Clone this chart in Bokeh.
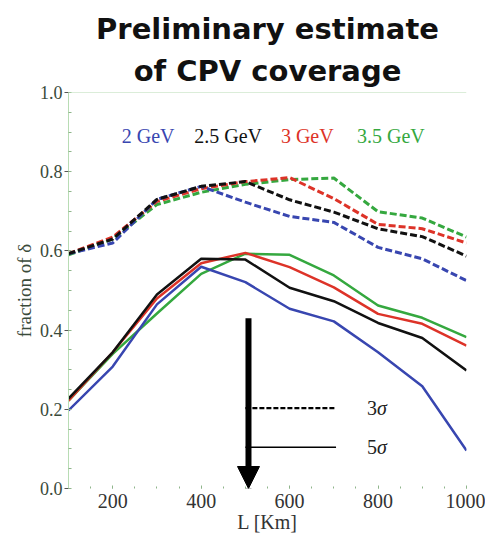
from bokeh.plotting import figure
from bokeh.embed import file_html
from bokeh.resources import INLINE
from bokeh.models import (Title, Span, Arrow, NormalHead, SingleIntervalTicker,
                          Range1d, PrintfTickFormatter)
from bokeh.core.properties import value

# ---- data ----
L = [100, 200, 300, 400, 500, 600, 700, 800, 900, 1000]

# 3 sigma (dashed)
blue3 = [0.593, 0.620, 0.730, 0.763, 0.723, 0.687, 0.672, 0.609, 0.580, 0.525]
black3 = [0.593, 0.630, 0.730, 0.763, 0.775, 0.729, 0.698, 0.656, 0.636, 0.587]
red3 = [0.593, 0.635, 0.725, 0.757, 0.775, 0.785, 0.732, 0.667, 0.656, 0.620]
green3 = [0.590, 0.630, 0.717, 0.748, 0.768, 0.780, 0.784, 0.699, 0.683, 0.635]

# 5 sigma (solid)
blue5 = [0.197, 0.308, 0.465, 0.560, 0.521, 0.454, 0.422, 0.344, 0.258, 0.096]
black5 = [0.227, 0.344, 0.490, 0.580, 0.578, 0.507, 0.473, 0.418, 0.380, 0.298]
red5 = [0.222, 0.344, 0.480, 0.569, 0.595, 0.559, 0.508, 0.441, 0.416, 0.361]
green5 = [0.222, 0.340, 0.442, 0.542, 0.593, 0.590, 0.538, 0.462, 0.431, 0.382]

energies = ["2 GeV", "2.5 GeV", "3 GeV", "3.5 GeV"]
energy_x = [280, 461, 640, 829]
energy_y = [0.89, 0.89, 0.89, 0.89]

sigma_nums = ["3", "5"]
sigma_y = [0.203, 0.104]
sigma_dash = ["5 2", "solid"]

BLUE = "#3846b0"
BLACK = "#111111"
RED = "#dd3328"
GREEN = "#35a83f"
colors = [BLUE, BLACK, RED, GREEN]
AX = "#b8dcb4"
SERIF = "Liberation Serif"
TFONT = "DejaVu Sans"

p = figure(width=485, height=544, x_range=Range1d(100, 1000), y_range=Range1d(0, 1),
           output_backend="svg", toolbar_location=None,
           min_border_left=68, min_border_right=19, min_border_top=92, min_border_bottom=56,
           title="Preliminary estimate")
p.title.align = "center"
p.title.text_font = TFONT
p.title.text_font_size = "29px"
p.title.text_font_style = "bold"
p.title.text_color = "#111111"
p.title.standoff = 3
p.add_layout(Title(text="of CPV coverage", align="center", text_font=TFONT,
                   text_font_size="29px", text_font_style="bold", text_color="#111111",
                   standoff=9),
             "above")

p.outline_line_color = None
p.grid.visible = False
p.background_fill_color = "white"

# axes
p.xaxis.ticker = SingleIntervalTicker(interval=200, num_minor_ticks=4)
p.xaxis.axis_line_color = None
p.xaxis.major_tick_in = 3
p.xaxis.major_tick_out = 0
p.xaxis.minor_tick_in = 2
p.xaxis.minor_tick_out = 0
p.xaxis.major_tick_line_color = "#8fb58b"
p.xaxis.minor_tick_line_color = "#8fb58b"
p.xaxis.major_label_text_font = SERIF
p.xaxis.major_label_text_font_size = "20px"
p.xaxis.major_label_text_color = "#333333"
p.xaxis.major_label_standoff = 5
p.xaxis.axis_label = "L [Km]"
p.xaxis.axis_label_text_font = SERIF
p.xaxis.axis_label_text_font_size = "20px"
p.xaxis.axis_label_text_font_style = "normal"
p.xaxis.axis_label_text_color = "#333333"
p.xaxis.axis_label_standoff = 0

p.yaxis.ticker = SingleIntervalTicker(interval=0.2, num_minor_ticks=4)
p.yaxis.formatter = PrintfTickFormatter(format="%.1f")
p.yaxis.axis_line_color = AX
p.yaxis.major_tick_in = 0
p.yaxis.major_tick_out = 4
p.yaxis.minor_tick_in = 3
p.yaxis.minor_tick_out = 0
p.yaxis.major_tick_line_color = "#555555"
p.yaxis.minor_tick_line_color = "#8fb58b"
p.yaxis.major_label_text_font = SERIF
p.yaxis.major_label_text_font_size = "18px"
p.yaxis.major_label_text_color = "#3a4a3a"
p.yaxis.major_label_standoff = 2
p.yaxis.axis_label = "fraction of δ"
p.yaxis.axis_label_text_font = SERIF
p.yaxis.axis_label_text_font_size = "19px"
p.yaxis.axis_label_text_font_style = "normal"
p.yaxis.axis_label_text_color = "#3a4a3a"
p.yaxis.axis_label_standoff = 2

p.add_layout(Span(location=1.0, dimension="width", line_color=AX, line_width=1))

# curves
order = [(green3, green5, GREEN), (red3, red5, RED), (blue3, blue5, BLUE), (black3, black5, BLACK)]
for d3, d5, c in order:
    p.line(L, d3, line_color=c, line_width=3, line_dash="7 3")
for d3, d5, c in order:
    p.line(L, d5, line_color=c, line_width=2.5)

# energy legend texts
p.text(x=energy_x, y=energy_y, text=energies, text_color=colors,
       text_font=value(SERIF), text_font_size="20px", text_align="center",
       text_baseline="middle")

# sigma legend
for yy, dsh in zip(sigma_y, sigma_dash):
    p.line([500, 705], [yy, yy], line_color="black", line_width=2.2 if dsh != "solid" else 1.6,
           line_dash=dsh)
p.text(x=[775, 775], y=sigma_y, text=sigma_nums, text_color="#222222",
       text_font=value(SERIF), text_font_size="20px", text_align="left",
       text_baseline="middle")
p.text(x=[775, 775], y=sigma_y, text=["σ", "σ"], x_offset=10, text_color="#222222",
       text_font=value(SERIF), text_font_size="20px", text_font_style="italic",
       text_align="left", text_baseline="middle")

# arrow
p.add_layout(Arrow(end=NormalHead(size=22, fill_color="black", line_color="black"),
                   x_start=507, y_start=0.43, x_end=507, y_end=0.0,
                   line_width=6, line_color="black"))

open("out.html", "w").write(file_html(p, INLINE))
